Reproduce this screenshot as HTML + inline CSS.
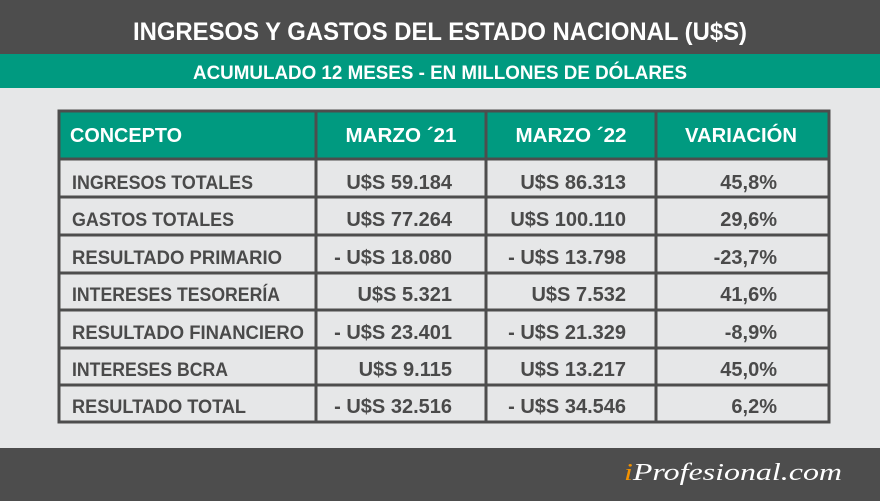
<!DOCTYPE html>
<html><head><meta charset="utf-8"><style>
html,body{margin:0;padding:0;background:#e6e7e8}
svg{display:block}
text{font-family:"Liberation Sans",sans-serif;font-weight:bold}
</style></head><body>
<svg width="880" height="501" viewBox="0 0 880 501" xmlns="http://www.w3.org/2000/svg">
<rect width="880" height="501" fill="#e6e7e8"/>
<rect x="0" y="0" width="880" height="54" fill="#4d4d4d"/>
<rect x="0" y="54" width="880" height="34" fill="#009a80"/>
<rect x="0" y="448" width="880" height="53" fill="#4d4d4d"/>
<text x="440" y="40" fill="#fff" font-size="25" text-anchor="middle" textLength="614" lengthAdjust="spacingAndGlyphs">INGRESOS Y GASTOS DEL ESTADO NACIONAL (U$S)</text>
<text x="440" y="79" fill="#fff" font-size="19" text-anchor="middle" textLength="494" lengthAdjust="spacingAndGlyphs">ACUMULADO 12 MESES - EN MILLONES DE DÓLARES</text>
<text x="842" y="480" fill="#fff" font-size="24" text-anchor="end" font-style="italic" style="font-family:'Liberation Serif',serif;font-weight:normal" textLength="218" lengthAdjust="spacingAndGlyphs"><tspan fill="#f39200">i</tspan>Profesional.com</text>
<rect x="59" y="111" width="770" height="48" fill="#009a80"/>
<g stroke="#4d4d4d" stroke-width="3" fill="none">
<rect x="59" y="111" width="770" height="311"/>
<line x1="59" y1="159" x2="829" y2="159"/>
<line x1="59" y1="197" x2="829" y2="197"/>
<line x1="59" y1="235" x2="829" y2="235"/>
<line x1="59" y1="273" x2="829" y2="273"/>
<line x1="59" y1="310" x2="829" y2="310"/>
<line x1="59" y1="348" x2="829" y2="348"/>
<line x1="59" y1="385" x2="829" y2="385"/>
<line x1="316" y1="111" x2="316" y2="422"/>
<line x1="486" y1="111" x2="486" y2="422"/>
<line x1="656" y1="111" x2="656" y2="422"/>
</g>
<g fill="#fff" font-size="20">
<text x="70" y="142" textLength="112" lengthAdjust="spacingAndGlyphs">CONCEPTO</text>
<text x="401" y="142" text-anchor="middle" textLength="111" lengthAdjust="spacingAndGlyphs">MARZO ´21</text>
<text x="571" y="142" text-anchor="middle" textLength="111" lengthAdjust="spacingAndGlyphs">MARZO ´22</text>
<text x="741" y="142" text-anchor="middle" textLength="112" lengthAdjust="spacingAndGlyphs">VARIACIÓN</text>
</g>
<g fill="#4a4a4a" font-size="19">
<text x="72" y="189" textLength="181" lengthAdjust="spacingAndGlyphs">INGRESOS TOTALES</text>
<text x="72" y="226" textLength="162" lengthAdjust="spacingAndGlyphs">GASTOS TOTALES</text>
<text x="72" y="264" textLength="210" lengthAdjust="spacingAndGlyphs">RESULTADO PRIMARIO</text>
<text x="72" y="301" textLength="208" lengthAdjust="spacingAndGlyphs">INTERESES TESORERÍA</text>
<text x="72" y="339" textLength="232" lengthAdjust="spacingAndGlyphs">RESULTADO FINANCIERO</text>
<text x="72" y="376" textLength="156" lengthAdjust="spacingAndGlyphs">INTERESES BCRA</text>
<text x="72" y="413" textLength="174" lengthAdjust="spacingAndGlyphs">RESULTADO TOTAL</text>
</g>
<g fill="#4a4a4a" font-size="20" text-anchor="end">
<text x="452" y="189">U$S 59.184</text>
<text x="452" y="226">U$S 77.264</text>
<text x="452" y="264">- U$S 18.080</text>
<text x="452" y="301">U$S 5.321</text>
<text x="452" y="339">- U$S 23.401</text>
<text x="452" y="376">U$S 9.115</text>
<text x="452" y="413">- U$S 32.516</text>
<text x="626" y="189">U$S 86.313</text>
<text x="626" y="226">U$S 100.110</text>
<text x="626" y="264">- U$S 13.798</text>
<text x="626" y="301">U$S 7.532</text>
<text x="626" y="339">- U$S 21.329</text>
<text x="626" y="376">U$S 13.217</text>
<text x="626" y="413">- U$S 34.546</text>
<text x="777" y="189">45,8%</text>
<text x="777" y="226">29,6%</text>
<text x="777" y="264">-23,7%</text>
<text x="777" y="301">41,6%</text>
<text x="777" y="339">-8,9%</text>
<text x="777" y="376">45,0%</text>
<text x="777" y="413">6,2%</text>
</g>
</svg>
</body></html>
